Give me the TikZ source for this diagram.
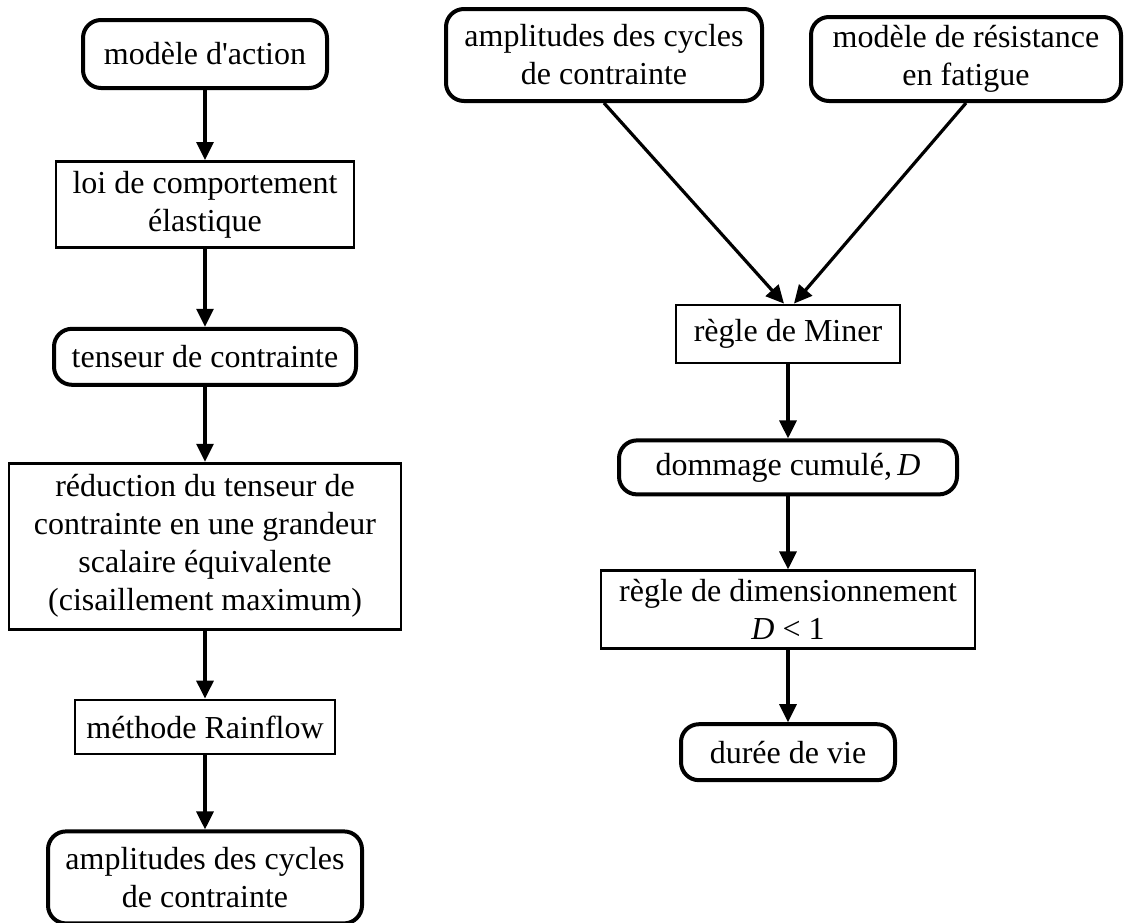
\documentclass[tikz,border=0pt]{standalone}
\usepackage{fontspec}
\setmainfont{Liberation Serif}
\usetikzlibrary{arrows.meta,positioning}

\begin{document}
\begin{tikzpicture}[x=0.5pt,y=-0.5pt,>={Triangle[length=9pt,width=8.5pt]},
    font=\fontsize{16}{19}\selectfont,
    rbox/.style={draw,rounded corners=9pt,line width=2pt,align=center,inner sep=2pt},
    sbox/.style={draw,line width=1.4pt,align=center,inner sep=2pt},
    flow/.style={->,line width=1.6pt}]
    \useasboundingbox (0,0) rectangle (1125,922);

    % chaine de gauche
    \node[rbox, minimum width=122pt, minimum height=34pt] (act) at (205,54) {modèle d\textquotesingle action};
    \node[sbox, minimum width=149pt, minimum height=43pt] (loi) [below=35pt of act] {loi de comportement\\élastique};
    \node[rbox, minimum width=151pt, minimum height=28pt] (tens) [below=39pt of loi] {tenseur de contrainte};
    \node[sbox, minimum width=196pt, minimum height=83pt] (red) [below=37.5pt of tens]
        {réduction du tenseur de\\contrainte en une grandeur\\scalaire équivalente\\(cisaillement maximum)};
    \node[sbox, minimum width=130pt, minimum height=27pt] (rain) [below=34pt of red] {méthode Rainflow};
    \node[rbox, minimum width=157pt, minimum height=46pt] (amplB) [below=37pt of rain] {amplitudes des cycles\\de contrainte};

    % chaine de droite
    \node[rbox, minimum width=158pt, minimum height=46pt] (amplA) at (604,55) {amplitudes des cycles\\de contrainte};
    \node[rbox, minimum width=155pt, minimum height=42pt] (fatig) at (966,59) {modèle de résistance\\en fatigue};
    \node[sbox, minimum width=112pt, minimum height=29pt] (miner) at (788,334) {règle de Miner};
    \node[rbox, minimum width=169pt, minimum height=27pt] (dom) [below=37pt of miner] {dommage cumulé,\,\textit{D}};
    \node[sbox, minimum width=187pt, minimum height=39pt] (dim) [below=36.5pt of dom] {règle de dimensionnement\\\textit{D} < 1};
    \node[rbox, minimum width=107pt, minimum height=28pt] (vie) [below=36pt of dim] {durée de vie};

    \draw[flow] (act) -- (loi);
    \draw[flow] (loi) -- (tens);
    \draw[flow] (tens) -- (red);
    \draw[flow] (red) -- (rain);
    \draw[flow] (rain) -- (amplB);
    \draw[flow] (amplA.south) -- ([xshift=-2pt]miner.north);
    \draw[flow] (fatig.south) -- ([xshift=3pt]miner.north);
    \draw[flow] (miner) -- (dom);
    \draw[flow] (dom) -- (dim);
    \draw[flow] (dim) -- (vie);
\end{tikzpicture}
\end{document}
